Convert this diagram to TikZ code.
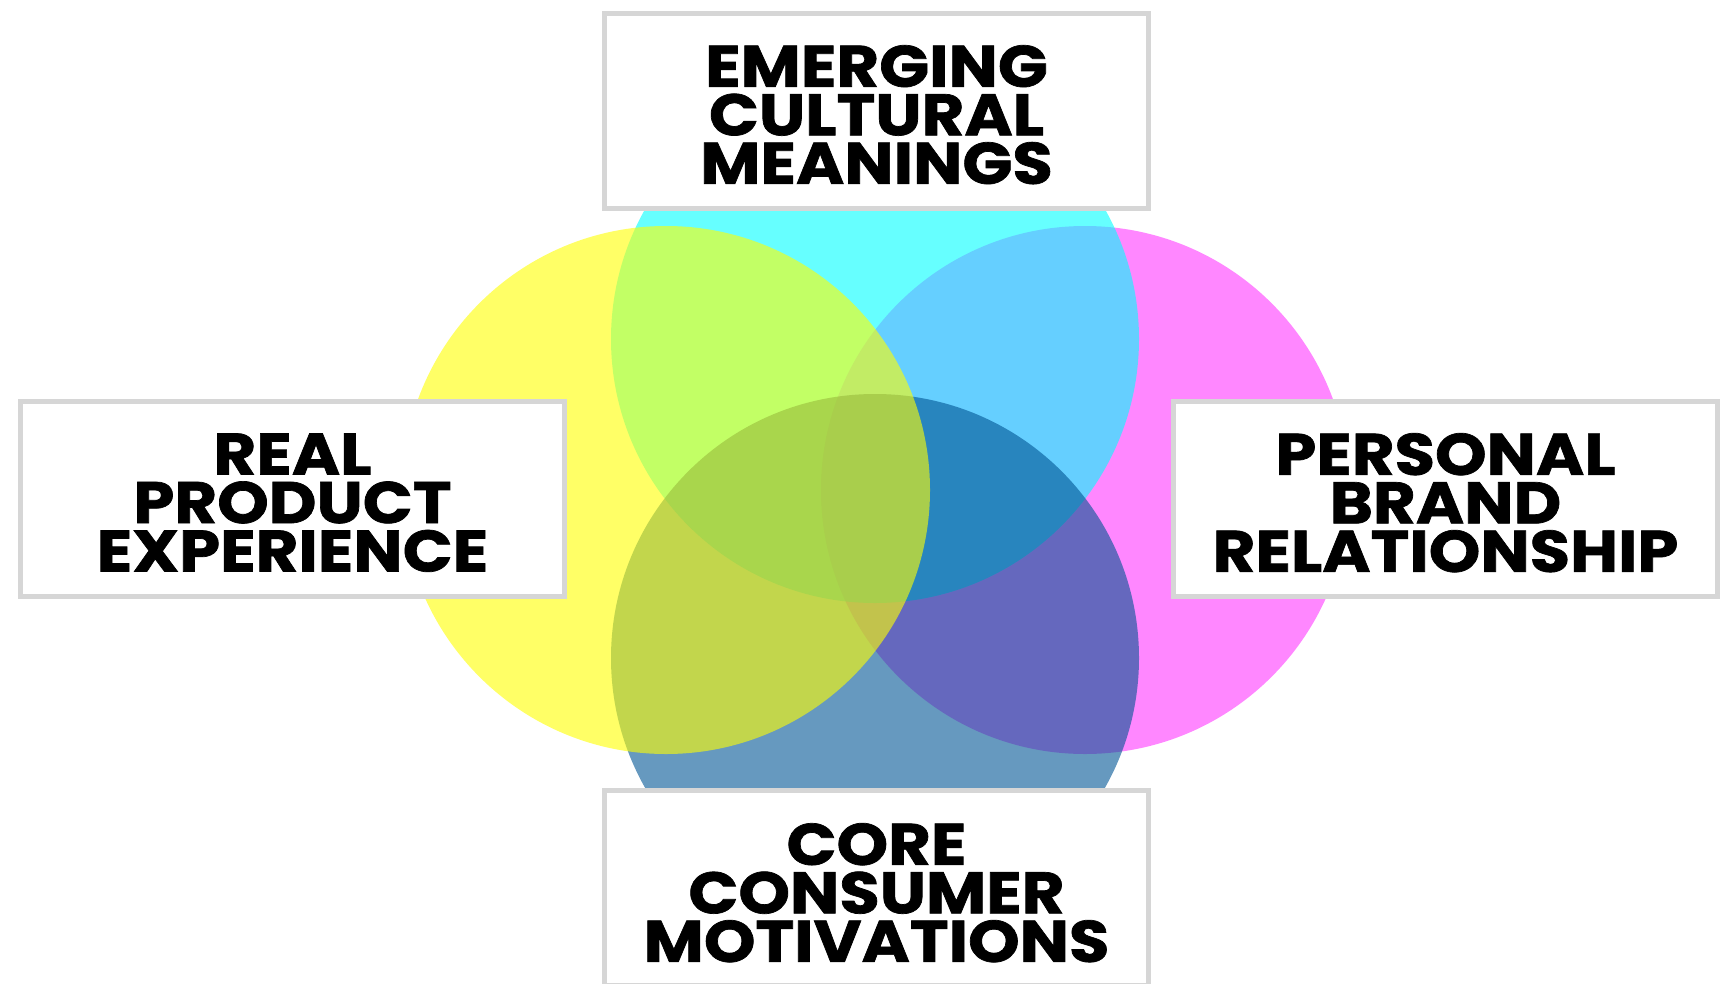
\documentclass[tikz,border=0pt]{standalone}
\usepackage{fontspec}
\newfontfamily\lbl{Poppins}[FakeStretch=1.12, BoldFeatures={FakeBold=1.2}]
\definecolor{cYellow}{RGB}{255,255,0}
\definecolor{cCyan}{RGB}{0,255,255}
\definecolor{cMagenta}{RGB}{255,0,255}
\definecolor{cBlue}{RGB}{0,85,148}
\definecolor{boxgray}{RGB}{214,214,214}
\tikzset{
  disc/.style={fill=#1, draw=none},
  tag box/.style={draw=boxgray, line width=5.5pt, fill=white,
    minimum width=544pt, minimum height=195pt, inner sep=0pt},
  tag text/.style={inner sep=0pt, align=center, text depth=0pt,
    font=\lbl\bfseries\fontsize{58.6}{48.5}\selectfont}
}
\begin{document}
\begin{tikzpicture}[x=1pt,y=-1pt]
  \useasboundingbox (0,0) rectangle (1735,983);
  % overlapping circles, back to front
  \fill[disc=cMagenta, fill opacity=0.47] (1085,490) circle (264pt);
  \fill[disc=cCyan, fill opacity=0.6] (875,339) circle (264pt);
  \fill[disc=cBlue, fill opacity=0.6] (875,658) circle (264pt);
  \fill[disc=cYellow, fill opacity=0.6] (666,490) circle (264pt);
  % label boxes
  \node[tag box] (top) at (876.5,111) {};
  \node[tag box] (left) at (292.5,499) {};
  \node[tag box] (right) at (1445.5,499) {};
  \node[tag box] (bottom) at (876.5,888) {};
  % label texts
  \node[tag text] (topText) at ([yshift=-3.5pt]top.center) {EMERGING\\CULTURAL\\MEANINGS};
  \node[tag text] (leftText) at ([yshift=-3.5pt]left.center) {REAL\\PRODUCT\\EXPERIENCE};
  \node[tag text] (rightText) at ([yshift=-3.5pt]right.center) {PERSONAL\\BRAND\\RELATIONSHIP};
  \node[tag text] (bottomText) at ([yshift=-4.5pt]bottom.center) {CORE\\CONSUMER\\MOTIVATIONS};
\end{tikzpicture}
\end{document}
